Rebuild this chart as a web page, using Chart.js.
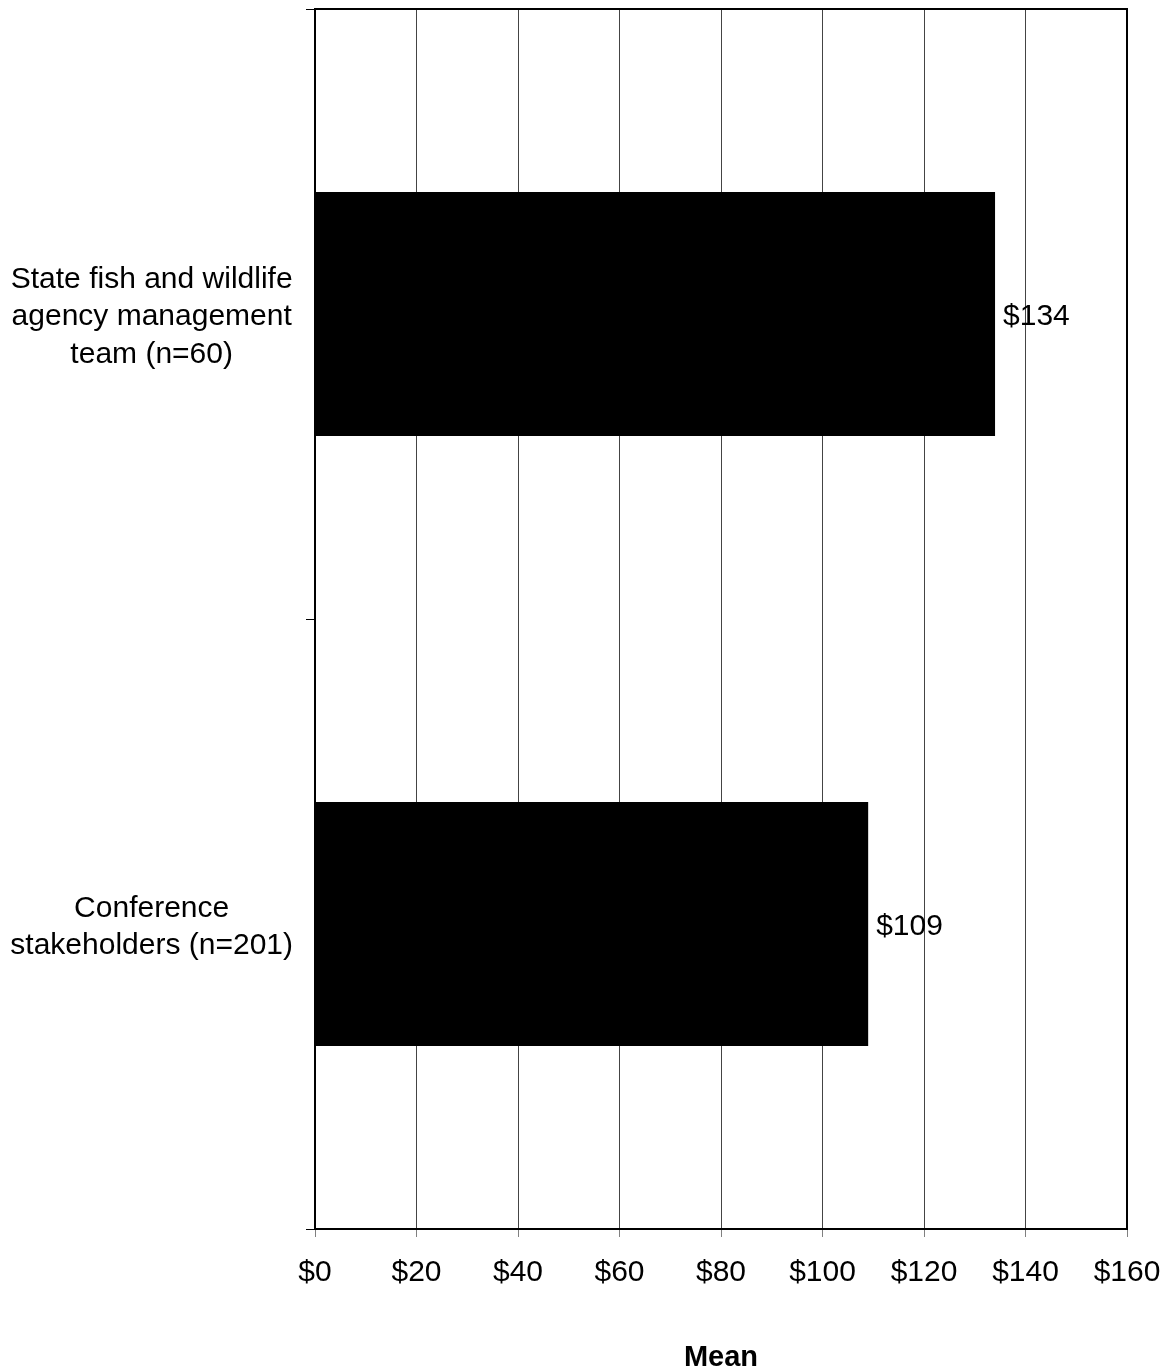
<!DOCTYPE html>
<html>
<head>
<meta charset="utf-8">
<script src="https://cdn.jsdelivr.net/npm/chart.js@4.4.1/dist/chart.umd.min.js"></script>
<style>
  html, body { margin: 0; padding: 0; background: #fff; }
  #wrap { width: 1167px; height: 1372px; position: relative; }
</style>
</head>
<body>
<div id="wrap"><canvas id="c" width="1167" height="1372"></canvas></div>
<script>
const categories = [
  ["State fish and wildlife", "agency management", "team (n=60)"],
  ["Conference", "stakeholders (n=201)"]
];
const meanValues = [134, 109];
const xTickMin = 0;
const xTickMax = 160;
const xTickStep = 20;
const axisTitle = "Mean";

const FONT = "'Liberation Sans', Arial, sans-serif";

const boxPlugin = {
  id: 'box',
  afterDatasetsDraw(chart) {
    const {ctx, chartArea: a} = chart;
    ctx.save();
    ctx.strokeStyle = '#000';
    ctx.lineWidth = 2;
    ctx.strokeRect(a.left, a.top, a.right - a.left, a.bottom - a.top);
    ctx.restore();
  }
};

const valueLabelPlugin = {
  id: 'valueLabels',
  afterDatasetsDraw(chart) {
    const {ctx} = chart;
    const meta = chart.getDatasetMeta(0);
    ctx.save();
    ctx.font = "30px " + FONT;
    ctx.fillStyle = '#000';
    ctx.textAlign = 'left';
    ctx.textBaseline = 'middle';
    meta.data.forEach((bar, i) => {
      ctx.fillText('$' + Math.round(meanValues[i]), bar.x + 8, bar.y + 3);
    });
    ctx.restore();
  }
};

new Chart(document.getElementById('c'), {
  type: 'bar',
  data: {
    labels: categories,
    datasets: [{
      data: meanValues,
      backgroundColor: '#000',
      borderWidth: 0,
      barPercentage: 0.8,
      categoryPercentage: 0.5
    }]
  },
  options: {
    indexAxis: 'y',
    responsive: false,
    animation: false,
    devicePixelRatio: 1,
    layout: { padding: { top: 9, right: 40, left: 0, bottom: 0 } },
    plugins: { legend: { display: false }, tooltip: { enabled: false } },
    scales: {
      x: {
        min: xTickMin,
        max: xTickMax,
        afterFit(scale) {
          scale.height = 143;
          scale.paddingLeft = 0;
          scale.paddingRight = 0;
        },
        ticks: {
          stepSize: xTickStep,
          color: '#000',
          font: { family: FONT, size: 30 },
          padding: 18,
          callback: (v) => '$' + v
        },
        grid: {
          color: '#444',
          lineWidth: 1,
          tickColor: '#808080',
          tickLength: 8,
          drawTicks: true
        },
        border: { display: false },
        title: {
          display: true,
          text: axisTitle,
          color: '#000',
          font: { family: FONT, size: 29, weight: 'bold' },
          padding: { top: 0, bottom: -3 }
        }
      },
      y: {
        afterFit(scale) {
          scale.width = 315;
          scale.paddingTop = 0;
          scale.paddingBottom = 0;
        },
        offset: true,
        ticks: {
          color: '#000',
          crossAlign: 'center',
          padding: 13,
          labelOffset: 3,
          font: { family: FONT, size: 30, lineHeight: 1.25 }
        },
        grid: {
          offset: true,
          drawOnChartArea: false,
          drawTicks: true,
          tickLength: 9,
          tickColor: '#000',
          lineWidth: 1
        },
        border: { display: false }
      }
    }
  },
  plugins: [boxPlugin, valueLabelPlugin]
});
</script>
</body>
</html>
